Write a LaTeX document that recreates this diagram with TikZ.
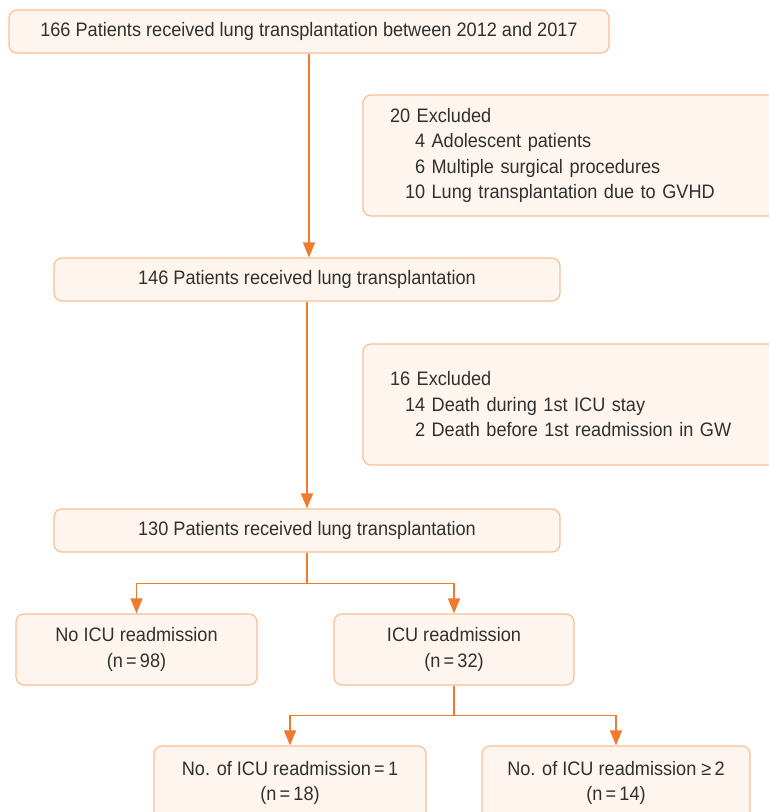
\documentclass[tikz,border=0pt]{standalone}
\usepackage{fontspec}
\setmainfont[FakeStretch=0.93]{Liberation Sans}
\usetikzlibrary{arrows.meta}
\definecolor{lineor}{HTML}{F07A2E}
\definecolor{boxbd}{HTML}{F8BE94}
\definecolor{boxfill}{HTML}{FEF5EF}
\definecolor{txt}{HTML}{303030}
\begin{document}
\begin{tikzpicture}[x=1pt,y=-1pt,
 box/.style={draw=boxbd, fill=boxfill, line width=1.2pt, rounded corners=8pt, text=txt,
   font=\fontsize{19.5}{25.5}\selectfont, inner sep=0pt, align=center},
 exbox/.style={box, align=left, inner xsep=27pt},
 arr/.style={draw=lineor, line width=1.3pt, -{Triangle[width=12pt,length=15pt]}},
 ln/.style={draw=lineor, line width=1.3pt}]
\useasboundingbox (0,0) rectangle (769,812);
\clip (0,0) rectangle (769,812);
\node[box, minimum width=600pt, minimum height=43pt] (b1) at (309,31.5)
  {166 Patients received lung transplantation between 2012 and 2017};
\node[exbox, minimum height=121pt, text width=383pt] (ex1) at (581.5,155.5)
  {20 Excluded\\
   \hspace*{25pt}4 Adolescent patients\\
   \hspace*{25pt}6 Multiple surgical procedures\\
   \hspace*{15pt}10 Lung transplantation due to GVHD};
\node[box, minimum width=506pt, minimum height=43pt] (b2) at (307,279.5)
  {146 Patients received lung transplantation};
\node[exbox, minimum height=121pt, text width=383pt] (ex2) at (581.5,404.5)
  {16 Excluded\\
   \hspace*{15pt}14 Death during 1st ICU stay\\
   \hspace*{25pt}2 Death before 1st readmission in GW};
\node[box, minimum width=506pt, minimum height=43pt] (b3) at (307,530.5)
  {130 Patients received lung transplantation};
\node[box, minimum width=241pt, minimum height=71pt] (b4) at (136.5,649.5)
  {No ICU readmission\\(n\,=\,98)};
\node[box, minimum width=240pt, minimum height=71pt] (b5) at (454,649.5)
  {ICU readmission\\(n\,=\,32)};
\node[box, minimum width=272pt, minimum height=74pt] (b6) at (290,783)
  {No. of ICU readmission\,=\,1\\(n\,=\,18)};
\node[box, minimum width=268pt, minimum height=74pt] (b7) at (616,783)
  {No. of ICU readmission ≥\,2\\(n\,=\,14)};
\draw[arr] (b1.south) -- (b1.south |- b2.north);
\draw[arr] (b2.south) -- (b2.south |- b3.north);
\draw[ln] (b3.south) -- ++(0,31) coordinate (j1);
\draw[arr] (j1) -| (b4.north);
\draw[arr] (j1) -| (b5.north);
\draw[ln] (b5.south) -- ++(0,30) coordinate (j2);
\draw[arr] (j2) -| (b6.north);
\draw[arr] (j2) -| (b7.north);
\end{tikzpicture}
\end{document}
